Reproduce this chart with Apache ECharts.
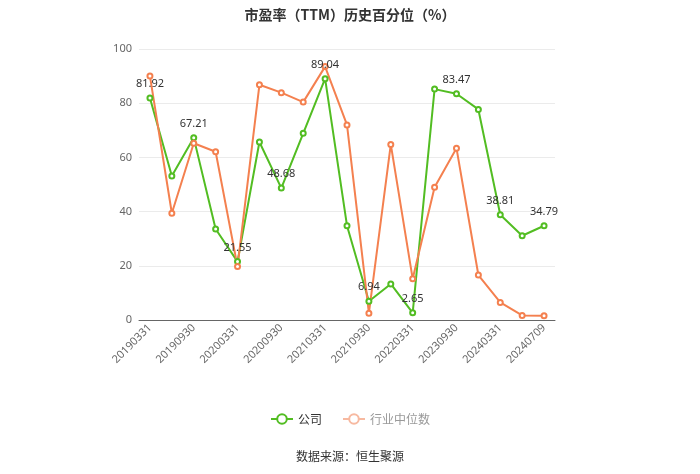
<!DOCTYPE html>
<html><head><meta charset="utf-8">
<script src="https://cdn.jsdelivr.net/npm/echarts@6/dist/echarts.min.js"></script>
<style>html,body{margin:0;padding:0;background:#fff}#c{width:700px;height:474px}</style>
</head><body><div id="c"></div>
<script>
var categories = ['20190331','20190630','20190930','20191231','20200331','20200630','20200930','20201231','20210331','20210630','20210930','20211231','20220331','20230630','20230930','20231231','20240331','20240630','20240709'];
var companyValues = [81.92,53.1,67.21,33.6,21.55,65.7,48.68,68.9,89.04,34.8,6.94,13.3,2.65,85.2,83.47,77.7,38.81,31.1,34.79];
var industryValues = [90.0,39.4,65.2,62.1,19.7,86.8,83.9,80.4,93.5,72.0,2.5,64.8,15.2,49.0,63.4,16.6,6.5,1.7,1.6];
var yTicks = {min:0, max:100, interval:20};

var green = '#52bd22', orange = '#f4804f';
var chart = echarts.init(document.getElementById('c'));
chart.setOption({
  animation:false,
  title:{text:'市盈率（TTM）历史百分位（%）',left:'center',top:3,textStyle:{fontSize:14,fontWeight:'bold',color:'#333',fontFamily:'Noto Sans CJK SC'}},
  legend:{bottom:44,left:'center',itemWidth:22,itemHeight:12,itemGap:20,textStyle:{fontSize:12,color:'#333',fontFamily:'Noto Sans CJK SC'},
    data:[{name:'公司'},{name:'行业中位数',itemStyle:{color:'#f7b9a0'},lineStyle:{color:'#f7b9a0'},textStyle:{color:'#999'}}]},
  graphic:[{type:'text',left:'center',top:450,style:{text:'数据来源：恒生聚源',fontSize:12,fill:'#333',fontFamily:'Noto Sans CJK SC'}}],
  grid:{left:139,right:145,top:49,bottom:154},
  xAxis:{type:'category',data:categories,boundaryGap:true,
    axisLine:{lineStyle:{color:'#666'}},
    axisTick:{alignWithLabel:true,interval:1,lineStyle:{color:'#666'}},
    axisLabel:{interval:1,rotate:45,color:'#666',fontSize:11,margin:6,fontFamily:'Noto Sans'}},
  yAxis:{type:'value',min:yTicks.min,max:yTicks.max,interval:yTicks.interval,
    axisLine:{show:false},axisTick:{show:false},
    axisLabel:{color:'#666',fontSize:11,margin:7,fontFamily:'Noto Sans'},
    splitLine:{lineStyle:{color:'#ebebeb'}}},
  series:[
    {name:'公司',type:'line',data:companyValues,color:green,symbol:'emptyCircle',symbolSize:5,
     lineStyle:{width:2,color:green},itemStyle:{color:green},
     label:{show:true,position:'top',color:'#333',fontSize:11,fontFamily:'Noto Sans',
       formatter:function(p){return p.dataIndex%2===0?p.value.toFixed(2):'';}}},
    {name:'行业中位数',type:'line',data:industryValues,color:orange,symbol:'emptyCircle',symbolSize:5,
     lineStyle:{width:2,color:orange},itemStyle:{color:orange}}
  ]
});
</script></body></html>
